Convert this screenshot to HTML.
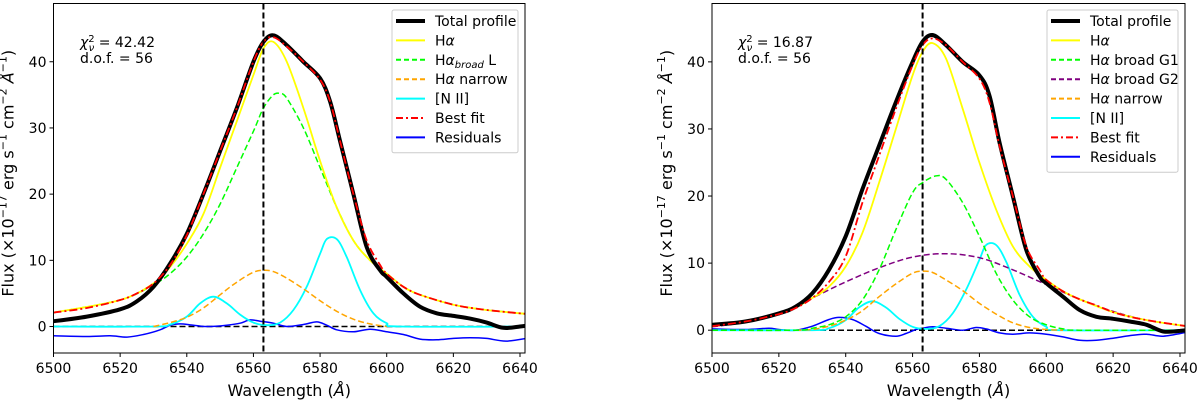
<!DOCTYPE html>
<html><head><meta charset="utf-8"><style>
html,body{margin:0;padding:0;background:#fff;width:1200px;height:403px;overflow:hidden}
svg{font-family:"DejaVu Sans","Liberation Sans",sans-serif}
</style></head><body>
<svg id="chart" width="1200" height="403" viewBox="0 0 1200 403"></svg>
<script>
// ---- Left panel data ----
const L_totWl=[6500,6510,6520,6525,6530,6535,6540,6545,6550,6555,6560,6563,6566,6570,6575,6580,6583,6586,6590,6594,6598,6600,6605,6610,6615,6620,6625,6630,6635,6640,6644];
const L_totV=[0.8,1.5,2.6,3.8,6,9.5,14,20,26.5,33,40,43,44,42.5,40,37.5,34,28,20,12,8.5,7.5,5,3,2,1.6,1.2,0.6,-0.2,0,0.3];
const L_fitWl=[6500,6510,6520,6525,6530,6535,6540,6545,6550,6555,6560,6563,6566,6570,6575,6580,6583,6586,6590,6594,6598,6600,6605,6610,6620,6630,6644];
const L_fitV=[2.1,2.8,4,5,6.5,9.3,13.8,20,26.5,33,40,43,43.7,42.3,40,37.3,34,28,20,13,9.3,8,6,4.8,3.3,2.5,1.8];
const L_haWl=[6500,6520,6530,6535,6540,6545,6550,6555,6560,6563,6566,6570,6575,6580,6585,6590,6595,6600,6605,6610,6620,6630,6644];
const L_haV=[2.1,4,6.5,9,12.5,17,24,31,38,42,43,40,33,25,18,13,10,8,6,4.8,3.3,2.5,1.8];
const L_brWl=[6500,6520,6530,6535,6540,6545,6550,6555,6560,6563,6566,6568,6570,6575,6580,6585,6590,6595,6600,6605,6610,6620,6630,6644];
const L_brV=[2.1,4,6.3,8,10.5,14,18.5,24,29.5,33,35,35.2,34.5,30,24,18,13,10,8,6,4.8,3.3,2.5,1.8];
const L_naWl=[6530,6535,6540,6545,6550,6555,6560,6563,6566,6570,6575,6580,6585,6590,6595,6600];
const L_naV=[0,0.6,1.4,2.8,4.8,6.7,8.2,8.5,8.3,7.3,5.7,3.9,2.3,1.1,0.4,0];
const L_niiWl=[6500,6530,6535,6540,6544,6548,6552,6556,6560,6564,6568,6572,6576,6580,6582,6585,6588,6592,6596,6600,6604,6644];
const L_niiV=[0,0,0.3,1.5,3.5,4.5,3.5,1.8,0.6,0.2,0.6,2.5,6,11,13.2,13.2,10.5,5.5,2,0.5,0,0];
const L_resWl=[6500,6510,6517,6522,6527,6532,6535,6538,6542,6546,6552,6556,6559,6562,6566,6570,6575,6579,6582,6585,6590,6595,6600,6605,6610,6615,6620,6625,6630,6636,6644];
const L_resV=[-1.4,-1.5,-1.4,-1.6,-1.2,-0.5,0.2,0.4,0.2,0,0.2,0.5,1,0.8,0.5,0,0.3,0.7,0.2,-0.5,-0.8,-0.4,-0.8,-1.2,-1.9,-2,-1.8,-1.7,-1.8,-2.2,-1.6];
// ---- Right panel data ----
const R_totWl=[6500,6510,6520,6525,6530,6535,6540,6545,6550,6555,6560,6563,6566,6570,6575,6580,6583,6586,6590,6594,6598,6600,6605,6610,6615,6620,6625,6630,6635,6640,6642];
const R_totV=[0.8,1.3,2.5,3.5,5.5,9,14,21,27.5,34,40,43,44,42.5,40,38,35,28,20,12,8,7,5,3,2,1.7,1.3,0.8,-0.2,-0.1,0];
const R_fitWl=[6500,6510,6520,6525,6530,6535,6540,6545,6550,6555,6560,6563,6566,6570,6575,6580,6583,6586,6590,6594,6598,6600,6605,6610,6615,6620,6625,6630,6635,6642];
const R_fitV=[0.6,1.3,2.4,3.3,4.8,7.2,11,19,26,33,39.5,42.5,43.5,42.5,40,37.5,34,27.5,20,12.5,9,7.5,5.8,4.6,3.7,2.7,2,1.5,1.1,0.6];
const R_haWl=[6500,6520,6530,6535,6540,6545,6550,6555,6560,6563,6566,6570,6575,6580,6585,6590,6595,6600,6605,6610,6620,6630,6642];
const R_haV=[0.6,2.4,4.8,6.5,9.5,14.5,22,30,38,41.5,42.8,40.5,33,25,18,12.5,9.5,7.5,5.8,4.6,2.7,1.5,0.6];
const R_g1Wl=[6500,6525,6530,6535,6540,6545,6550,6555,6560,6563,6567,6570,6575,6580,6585,6590,6595,6600,6605,6610,6642];
const R_g1V=[0,0,0.3,0.8,2,4.5,9,15,20.5,22,23,22.5,19,14,8.5,4.5,2,0.8,0.2,0,0];
const R_g2Wl=[6500,6510,6520,6530,6540,6550,6560,6570,6580,6590,6600,6610,6620,6630,6642];
const R_g2V=[0.5,1.2,2.5,4.8,7.2,9.3,10.9,11.4,10.8,9,6.8,4.6,2.8,1.5,0.6];
const R_naWl=[6525,6530,6535,6540,6545,6550,6555,6560,6563,6566,6570,6575,6580,6585,6590,6595,6600,6605];
const R_naV=[0,0.1,0.6,1.5,2.9,5,6.9,8.5,8.8,8.6,7.5,5.9,4,2.4,1.1,0.4,0.1,0];
const R_niiWl=[6500,6530,6535,6540,6544,6548,6552,6556,6560,6564,6568,6572,6576,6580,6582,6585,6588,6592,6596,6600,6604,6642];
const R_niiV=[0,0,0.3,1.5,3.4,4.3,3.4,1.7,0.5,0.2,0.6,2.5,6,10.5,12.7,12.7,10.2,5.3,2,0.5,0,0];
const R_resWl=[6500,6510,6517,6520,6525,6530,6535,6538,6542,6546,6550,6555,6558,6561,6563,6566,6570,6575,6579,6582,6586,6590,6595,6600,6605,6610,6615,6620,6625,6630,6635,6642];
const R_resV=[0.2,0.1,0.3,0.1,0,0.6,1.6,1.9,1.6,0.6,-0.5,-0.9,-0.5,0.1,0.3,0.5,0.3,0,0.4,0.2,-0.4,-0.6,-0.4,-0.6,-1,-1.5,-1.5,-1.2,-0.8,-0.6,-0.9,-0.3];
const xTicks=[6500,6520,6540,6560,6580,6600,6620,6640];
const yTicks=[0,10,20,30,40];

const NS='http://www.w3.org/2000/svg';
const svg=document.getElementById('chart');
function mk(tag,attrs,parent,text){const e=document.createElementNS(NS,tag);for(const k in attrs)e.setAttribute(k,attrs[k]);if(text!==undefined)e.textContent=text;(parent||svg).appendChild(e);return e;}
function smoothPath(pts){
  let d='M'+pts[0][0].toFixed(1)+','+pts[0][1].toFixed(1);
  for(let i=0;i<pts.length-1;i++){
    const p0=pts[Math.max(0,i-1)],p1=pts[i],p2=pts[i+1],p3=pts[Math.min(pts.length-1,i+2)];
    const c1x=p1[0]+(p2[0]-p0[0])/6,c1y=p1[1]+(p2[1]-p0[1])/6;
    const c2x=p2[0]-(p3[0]-p1[0])/6,c2y=p2[1]-(p3[1]-p1[1])/6;
    d+=' C'+c1x.toFixed(1)+','+c1y.toFixed(1)+' '+c2x.toFixed(1)+','+c2y.toFixed(1)+' '+p2[0].toFixed(1)+','+p2[1].toFixed(1);
  }
  return d;
}

function panel(cfg){
  const g=mk('g',{});
  
  
  const sx=v=>cfg.x0+(v-cfg.xmin)/(cfg.xmax-cfg.xmin)*(cfg.x1-cfg.x0);
  const sy=v=>cfg.yb-(v-cfg.ymin)/(cfg.ymax-cfg.ymin)*(cfg.yb-cfg.yt);
  const clip='clip-'+cfg.name;
  const cp=mk('clipPath',{id:clip},g);mk('rect',{x:cfg.x0,y:cfg.yt,width:cfg.x1-cfg.x0,height:cfg.yb-cfg.yt},cp);
  const plot=mk('g',{'clip-path':'url(#'+clip+')'},g);
  // zero line first
  const z=mk('line',{x1:cfg.x0,x2:cfg.x1,y1:sy(0),y2:sy(0),stroke:'#000','stroke-width':1.5,'stroke-dasharray':'6,3'},plot);
  
  function line(wl,v,col,w,dash,name,sm){
    const pts=wl.map((x,i)=>[sx(x),sy(v[i])]);
    const p=mk('path',{d:smoothPath(pts),fill:'none',stroke:col,'stroke-width':w,'stroke-linejoin':'round'},plot);
    if(dash)p.setAttribute('stroke-dasharray',dash);
    
    
  }
  for(const s of cfg.series)line(s.wl,s.v,s.col,s.w,s.dash,s.name);
  const vl=mk('line',{x1:sx(6563),x2:sx(6563),y1:cfg.yt,y2:cfg.yb,stroke:'#000','stroke-width':2,'stroke-dasharray':'6,3'},plot);
  
  const fr=mk('rect',{x:cfg.x0,y:cfg.yt,width:cfg.x1-cfg.x0,height:cfg.yb-cfg.yt,fill:'none',stroke:'#000','stroke-width':1},g);
  
  for(const t of xTicks){const x=sx(t);mk('line',{x1:x,x2:x,y1:cfg.yb,y2:cfg.yb+4,stroke:'#000'},g);
    const tx=mk('text',{x:x,y:cfg.yb+20,'text-anchor':'middle','font-size':14},g,t);
    }
  for(const t of yTicks){const y=sy(t);mk('line',{x1:cfg.x0-4,x2:cfg.x0,y1:y,y2:y,stroke:'#000'},g);
    const ty=mk('text',{x:cfg.x0-7,y:y+5,'text-anchor':'end','font-size':14},g,t);
    }
  const xl=mk('text',{x:(cfg.x0+cfg.x1)/2,y:396,'text-anchor':'middle','font-size':16},g);
  xl.innerHTML='Wavelength (<tspan font-style="italic">Å</tspan>)';
  
  const yl=mk('text',{transform:'translate('+(cfg.x0-40)+','+((cfg.yt+cfg.yb)/2-5)+') rotate(-90)','text-anchor':'middle','font-size':16},g);
  yl.innerHTML='Flux (×10<tspan dy="-7" font-size="11">−17</tspan><tspan dy="7"> erg s</tspan><tspan dy="-7" font-size="11">−1</tspan><tspan dy="7"> cm</tspan><tspan dy="-7" font-size="11">−2</tspan><tspan dy="7"> </tspan><tspan font-style="italic">Å</tspan><tspan dy="-7" font-size="11">−1</tspan><tspan dy="7">)</tspan>';
  
  const a1=mk('text',{x:cfg.ax,y:47,'font-size':14},g);
  a1.innerHTML='<tspan font-style="italic">χ</tspan><tspan dy="-5" font-size="10">2</tspan><tspan dx="-6" dy="9" font-size="10" font-style="italic">ν</tspan><tspan dy="-4"> = '+cfg.chi+'</tspan>';
  
  const a2=mk('text',{x:cfg.ax,y:63,'font-size':14},g,'d.o.f. = 56');
  
  const lg=mk('g',{},g);
  
  const n=cfg.legend.length;
  mk('rect',{x:cfg.lx,y:10,width:cfg.lw,height:n*19.4+7,fill:'#fff',stroke:'#ccc','stroke-width':1,rx:2},lg);
  cfg.legend.forEach((it,i)=>{
    const y=21+i*19.4;
    const ln=mk('line',{x1:cfg.lx+4,x2:cfg.lx+33,y1:y,y2:y,stroke:it.col,'stroke-width':it.w},lg);
    if(it.dash)ln.setAttribute('stroke-dasharray',it.dash);
    const t=mk('text',{x:cfg.lx+43,y:y+5,'font-size':14},lg);
    t.innerHTML=it.label;
    
  });
}
const HA='H<tspan font-style="italic">α</tspan>';
panel({name:'left-panel',x0:53.5,x1:525,yt:3.5,yb:353,xmin:6500,xmax:6641.5,ymin:-4.0,ymax:48.8,ax:80,chi:'42.42',lx:392,lw:126,
 series:[
  {wl:L_resWl,v:L_resV,col:'#0000ff',w:1.5,name:'residuals-line'},
  {wl:L_niiWl,v:L_niiV,col:'#00ffff',w:1.8,name:'nii-line'},
  {wl:L_naWl,v:L_naV,col:'#ffa500',w:1.5,dash:'6,3',name:'halpha-narrow-line'},
  {wl:L_brWl,v:L_brV,col:'#00ff00',w:1.5,dash:'6,3',name:'halpha-broad-line'},
  {wl:L_haWl,v:L_haV,col:'#ffff00',w:1.8,name:'halpha-line'},
  {wl:L_totWl,v:L_totV,col:'#000',w:4,name:'total-profile-line'},
  {wl:L_fitWl,v:L_fitV,col:'#ff0000',w:1.8,dash:'8,3,2,3',name:'best-fit-line'}],
 legend:[{col:'#000',w:4,label:'Total profile'},{col:'#ffff00',w:2,label:HA},{col:'#00ff00',w:2,dash:'5,3',label:HA+'<tspan dy="3" font-size="10" font-style="italic">broad</tspan><tspan dy="-3"> L</tspan>'},
  {col:'#ffa500',w:2,dash:'5,3',label:HA+' narrow'},{col:'#00ffff',w:2,label:'[N II]'},{col:'#ff0000',w:2,dash:'7,3,2,3',label:'Best fit'},{col:'#0000ff',w:2,label:'Residuals'}]});
panel({name:'right-panel',x0:712,x1:1185,yt:3.5,yb:353,xmin:6500,xmax:6641.5,ymin:-3.4,ymax:48.7,ax:738,chi:'16.87',lx:1047,lw:131,
 series:[
  {wl:R_resWl,v:R_resV,col:'#0000ff',w:1.5,name:'residuals-line'},
  {wl:R_niiWl,v:R_niiV,col:'#00ffff',w:1.8,name:'nii-line'},
  {wl:R_naWl,v:R_naV,col:'#ffa500',w:1.5,dash:'6,3',name:'halpha-narrow-line'},
  {wl:R_g2Wl,v:R_g2V,col:'#800080',w:1.5,dash:'6,3',name:'halpha-broad-g2-line'},
  {wl:R_g1Wl,v:R_g1V,col:'#00ff00',w:1.5,dash:'6,3',name:'halpha-broad-g1-line'},
  {wl:R_haWl,v:R_haV,col:'#ffff00',w:1.8,name:'halpha-line'},
  {wl:R_totWl,v:R_totV,col:'#000',w:4,name:'total-profile-line'},
  {wl:R_fitWl,v:R_fitV,col:'#ff0000',w:1.8,dash:'8,3,2,3',name:'best-fit-line'}],
 legend:[{col:'#000',w:4,label:'Total profile'},{col:'#ffff00',w:2,label:HA},{col:'#00ff00',w:2,dash:'5,3',label:HA+' broad G1'},{col:'#800080',w:2,dash:'5,3',label:HA+' broad G2'},
  {col:'#ffa500',w:2,dash:'5,3',label:HA+' narrow'},{col:'#00ffff',w:2,label:'[N II]'},{col:'#ff0000',w:2,dash:'7,3,2,3',label:'Best fit'},{col:'#0000ff',w:2,label:'Residuals'}]});
</script>
</body></html>
